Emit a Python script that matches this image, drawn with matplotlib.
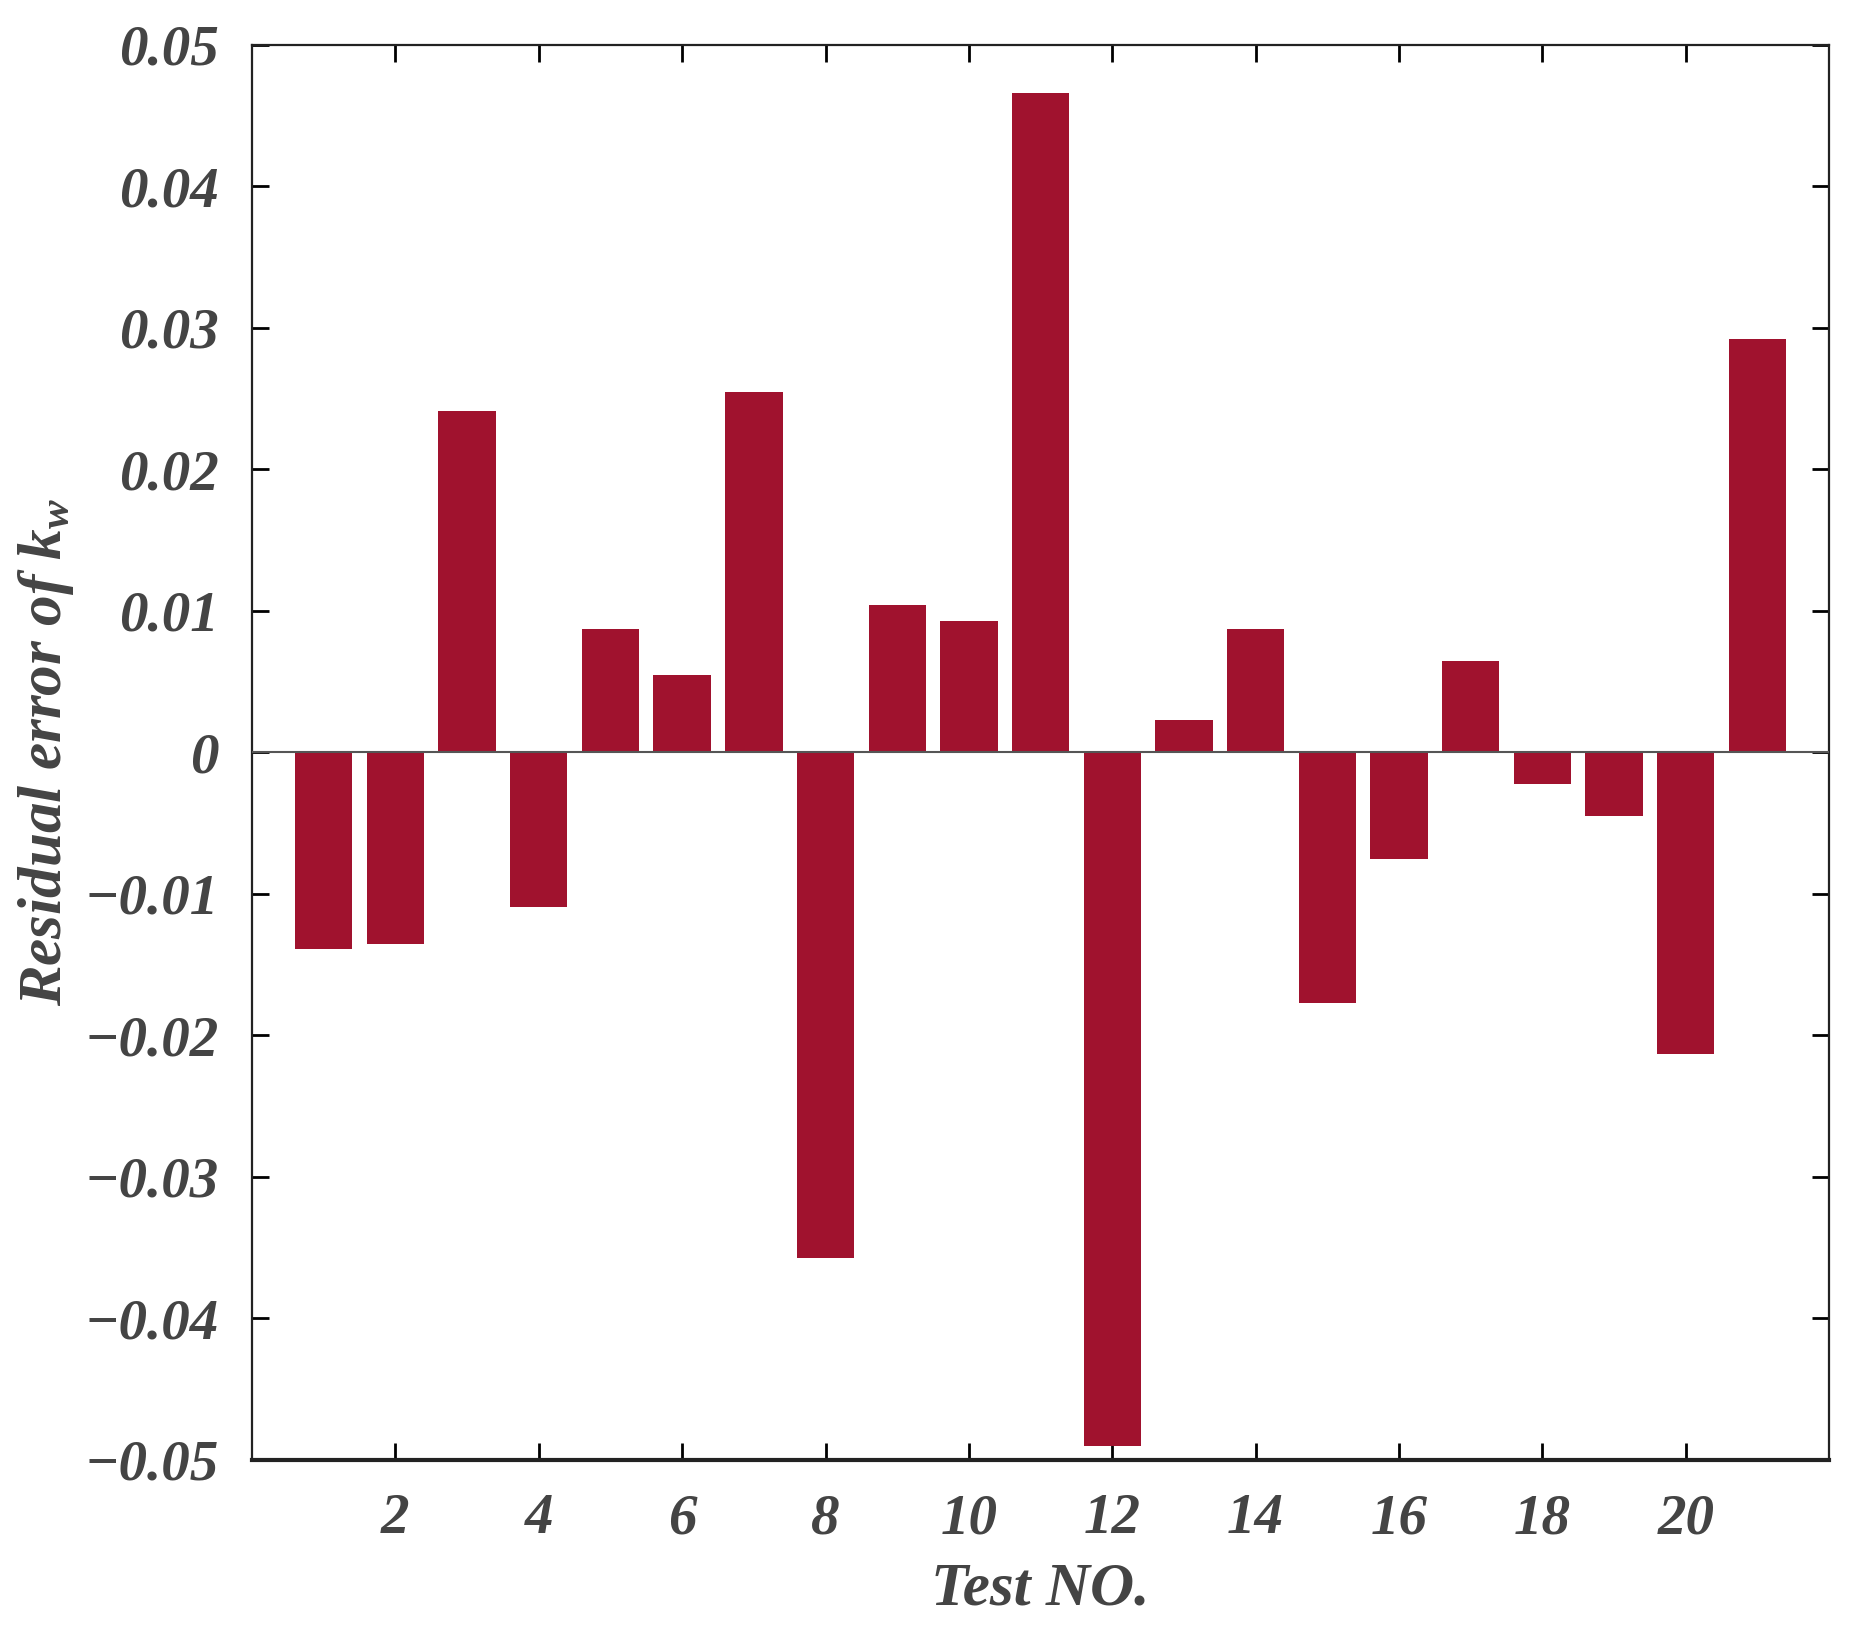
import numpy as np
import matplotlib.pyplot as plt

test_no = np.arange(1, 22)
residual = [-0.0139, -0.0135, 0.0241, -0.0109, 0.0087, 0.0055, 0.0255,
            -0.0357, 0.0104, 0.0093, 0.0466, -0.0490, 0.0023, 0.0087,
            -0.0177, -0.0075, 0.0065, -0.0022, -0.0045, -0.0213, 0.0292]
xticks = [2, 4, 6, 8, 10, 12, 14, 16, 18, 20]
yticks = [-0.05, -0.04, -0.03, -0.02, -0.01, 0, 0.01, 0.02, 0.03, 0.04, 0.05]
ytick_labels = ["\u22120.05", "\u22120.04", "\u22120.03", "\u22120.02", "\u22120.01",
                "0", "0.01", "0.02", "0.03", "0.04", "0.05"]

txt = "#444444"
plt.rcParams['font.family'] = 'Liberation Serif'
plt.rcParams['font.weight'] = 'bold'
plt.rcParams['font.style'] = 'italic'
plt.rcParams['mathtext.fontset'] = 'custom'
plt.rcParams['mathtext.it'] = 'Liberation Serif:italic:bold'
plt.rcParams['mathtext.rm'] = 'Liberation Serif:italic:bold'

fig = plt.figure(figsize=(18.56, 16.36), dpi=100)
ax = fig.add_axes([0.1358, 0.1076, 0.8497, 0.8649])

ax.bar(test_no, residual, width=0.8, color="#A0122E", zorder=2)
ax.axhline(0, color="#555555", linewidth=1.5, zorder=3)

ax.set_xlim(0, 22)
ax.set_ylim(-0.05, 0.05)
ax.set_xticks(xticks)
ax.set_yticks(yticks)
ax.set_yticklabels(ytick_labels)
ax.tick_params(direction='in', length=12, width=2, top=True, right=True,
               labelsize=41, labelcolor=txt)
ax.tick_params(axis='x', pad=24)
ax.tick_params(axis='y', pad=24)
for lab in ax.get_xticklabels() + ax.get_yticklabels():
    lab.set_fontweight('bold')
    lab.set_fontstyle('italic')

for s in ax.spines.values():
    s.set_linewidth(1.6)
    s.set_color("#222222")
ax.spines['bottom'].set_linewidth(3)

ax.set_xlabel("Test NO.", fontsize=44, color=txt, labelpad=12,
              fontweight='bold', fontstyle='italic')
ax.set_ylabel("Residual error of $k_w$", fontsize=44, color=txt, labelpad=6,
              fontweight='bold', fontstyle='italic')

plt.savefig("out.png", dpi=100)
